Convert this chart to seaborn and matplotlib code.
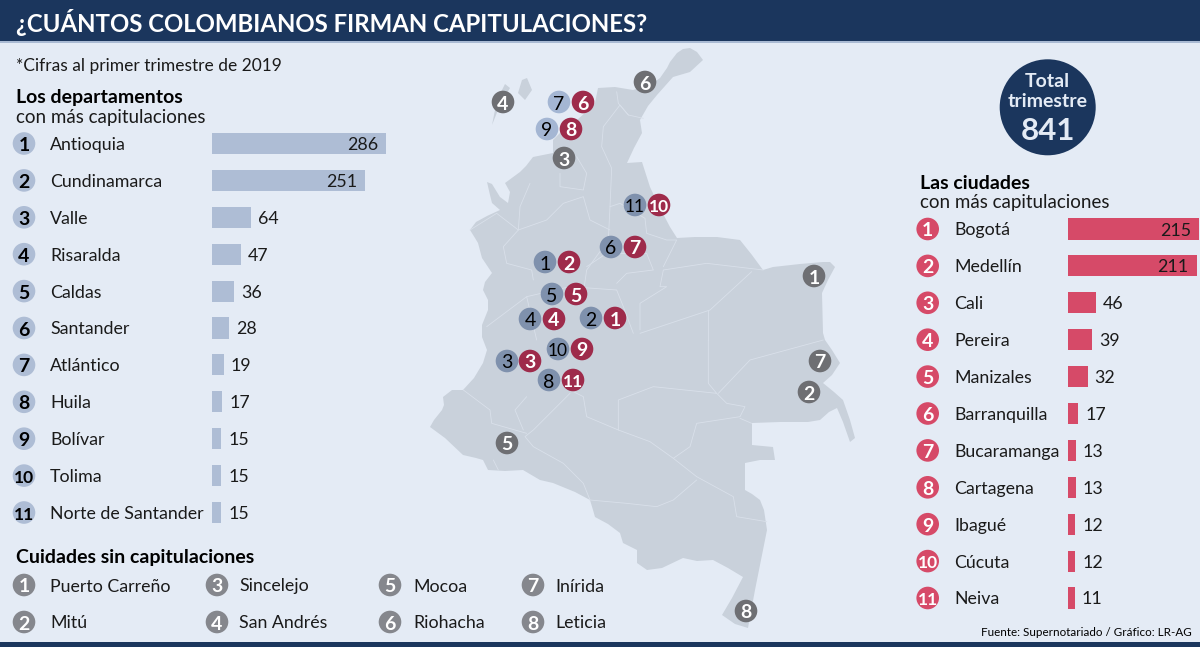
import matplotlib
matplotlib.use("Agg")
import matplotlib.pyplot as plt
from matplotlib.patches import Circle, Polygon, Rectangle
import seaborn as sns

sns.set_style("white")
plt.rcParams['font.family'] = ['Lato', 'DejaVu Sans']

# Datos
dept_names = ["Antioquia", "Cundinamarca", "Valle", "Risaralda", "Caldas", "Santander",
              "Atlántico", "Huila", "Bolívar", "Tolima", "Norte de Santander"]
dept_values = [286, 251, 64, 47, 36, 28, 19, 17, 15, 15, 15]
city_names = ["Bogotá", "Medellín", "Cali", "Pereira", "Manizales", "Barranquilla",
              "Bucaramanga", "Cartagena", "Ibagué", "Cúcuta", "Neiva"]
city_values = [215, 211, 46, 39, 32, 17, 13, 13, 12, 12, 11]
no_cap_names = ["Puerto Carreño", "Mitú", "Sincelejo", "San Andrés",
                "Mocoa", "Riohacha", "Inírida", "Leticia"]
total = 841

BG = "#E4EBF5"
NAVY = "#1B365D"
MAP = "#C9D1DB"
LINE = "#D9E0EA"
BLUE = "#AEBDD5"
BLUE_MAP = "#7F91AD"
PINK = "#D64A68"
WINE = "#9E2B4B"
GREY = "#6E6F73"
GREY2 = "#85878D"
TXT = "#1A1A1A"
FS = 12.8

fig = plt.figure(figsize=(12, 6.47), dpi=100, facecolor=BG)
bg = fig.add_axes([0, 0, 1, 1], zorder=0)
bg.set_xlim(0, 1200)
bg.set_ylim(647, 0)
bg.axis("off")

# Franjas
bg.add_patch(Rectangle((0, 0), 1200, 41, color=NAVY, lw=0))
bg.add_patch(Rectangle((0, 41), 1200, 1.5, color="#A9BAD3", lw=0))
bg.add_patch(Rectangle((0, 642), 1200, 5, color=NAVY, lw=0))

# Mapa (silueta aproximada en pixeles)
outline = [(703, 60), (697, 52), (690, 48), (683, 49), (677, 53), (670, 62), (667, 68), (660, 78), (653, 83),
           (640, 88), (633, 90), (615, 87), (598, 88), (595, 103), (586, 112), (577, 120), (565, 128),
           (553, 140), (553, 153), (543, 155), (533, 157), (526, 166), (520, 172), (505, 183), (510, 192),
           (508, 203), (500, 197), (492, 184), (487, 182), (490, 195), (492, 203), (500, 210), (487, 216),
           (476, 222), (470, 230), (475, 238), (478, 243), (482, 258), (492, 273), (485, 282), (483, 290),
           (488, 300), (488, 310), (482, 325), (482, 337), (487, 350), (483, 363), (474, 378), (463, 390),
           (452, 390), (443, 397), (444, 405), (442, 410), (434, 420), (430, 427), (445, 438), (463, 455),
           (476, 458), (483, 460), (488, 470), (505, 471), (523, 470), (540, 480), (553, 483), (575, 492),
           (590, 500), (593, 510), (595, 517), (608, 524), (620, 533), (623, 543), (637, 550), (637, 563),
           (647, 570), (662, 568), (683, 558), (697, 561), (713, 560), (728, 568), (743, 577), (732, 598),
           (722, 615), (735, 624), (748, 628), (755, 590), (767, 530), (764, 510), (760, 500), (752, 494),
           (745, 490), (745, 463), (760, 460), (775, 460), (773, 447), (752, 445), (752, 423), (780, 422),
           (808, 422), (820, 420), (829, 412), (837, 408), (843, 422), (850, 442), (855, 438), (850, 420),
           (843, 400), (834, 392), (823, 383), (832, 375), (840, 363), (832, 350), (825, 340), (823, 333),
           (822, 293), (828, 280), (835, 267), (830, 262), (823, 262), (800, 264), (773, 267), (763, 270),
           (752, 255), (740, 240), (717, 237), (695, 237), (677, 238), (670, 227), (660, 208), (650, 187),
           (642, 162), (627, 163), (634, 148), (642, 133), (640, 120), (648, 106), (657, 95), (673, 77),
           (690, 72)]
bg.add_patch(Polygon(outline, closed=True, facecolor=MAP, edgecolor="none", zorder=1))
bg.add_patch(Polygon([(492, 125), (497, 100), (505, 84), (510, 88), (500, 105)], facecolor=MAP, edgecolor="none", zorder=1))
bg.add_patch(Polygon([(518, 93), (522, 80), (527, 78), (532, 90), (525, 100)], facecolor=MAP, edgecolor="none", zorder=1))

upper = [[(590, 155), (595, 190), (625, 225), (670, 235)],
         [(550, 260), (600, 195), (625, 225)],
         [(550, 260), (545, 320), (575, 385), (570, 500), (565, 600), (500, 690), (490, 760)],
         [(330, 430), (300, 500), (295, 570), (250, 620), (260, 670), (335, 690), (340, 720)],
         [(420, 400), (420, 440), (490, 450), (500, 400), (470, 350)],
         [(295, 570), (380, 540), (430, 490), (490, 470), (510, 540), (570, 570)],
         [(150, 570), (230, 520), (295, 570)],
         [(570, 500), (600, 490), (675, 535), (680, 580), (740, 600), (770, 600), (730, 680)],
         [(500, 680), (560, 640), (680, 640), (700, 690), (620, 700), (590, 730)],
         [(1030, 690), (860, 670), (730, 690), (720, 740), (740, 740), (660, 790), (660, 870)],
         [(995, 695), (870, 810), (660, 880)],
         [(865, 810), (865, 900)],
         [(320, 770), (450, 740), (590, 750), (610, 800), (640, 880)],
         [(200, 860), (320, 770), (350, 900)]]
lower = [[(895, 160), (990, 60), (1210, 0)],
         [(865, 0), (865, 130), (890, 160), (700, 140), (595, 180), (595, 270)],
         [(595, 270), (500, 230), (490, 170), (450, 150)],
         [(595, 270), (690, 305), (760, 355), (830, 410)],
         [(890, 160), (920, 190), (975, 200), (960, 230), (830, 250), (810, 320), (760, 355)],
         [(830, 410), (940, 470), (950, 530), (1040, 545)],
         [(830, 420), (760, 480), (710, 500), (620, 490), (510, 480)],
         [(450, 160), (340, 270), (315, 290), (340, 320), (430, 370), (490, 430), (510, 480)],
         [(130, 150), (210, 210), (215, 250), (320, 280)],
         [(320, 170), (285, 210), (310, 270)],
         [(220, 360), (235, 390)],
         [(960, 235), (995, 250)]]
for seg in upper:
    bg.plot([420 + p[0] / 3 for p in seg], [40 + p[1] / 3 for p in seg], color=LINE, lw=0.6, zorder=2)
for seg in lower:
    bg.plot([420 + p[0] / 3 for p in seg], [340 + p[1] / 3 for p in seg], color=LINE, lw=0.6, zorder=2)


def badge(x, y, label, fc, tc="white", r=11.3, size=14, weight="bold"):
    bg.add_patch(Circle((x, y), r, facecolor=fc, edgecolor="none", zorder=4))
    if len(label) > 1:
        size = 12.5
    bg.text(x, y + 0.5, label, ha="center", va="center_baseline", color=tc, fontsize=size,
            fontweight=weight, zorder=5)


# Marcadores del mapa
for lab, x, y in [("4", 503, 102), ("6", 645, 82), ("3", 564, 158), ("1", 814, 276),
                  ("7", 820, 361), ("2", 809, 392), ("5", 507, 443), ("8", 746, 611)]:
    badge(x, y, lab, GREY)
for lab, x, y in [("7", 559, 102), ("9", 547, 129)]:
    badge(x, y, lab, "#A4B6D3", tc="black", weight="normal")
for lab, x, y in [("11", 635, 205), ("6", 611, 247), ("1", 545, 262), ("5", 552, 294), ("4", 530, 319),
                  ("2", 591, 318), ("10", 558, 349), ("3", 507, 361), ("8", 549, 380)]:
    badge(x, y, lab, BLUE_MAP, tc="black", weight="normal")
for lab, x, y in [("6", 583, 102), ("8", 571, 129), ("10", 659, 205), ("7", 635, 247), ("2", 569, 262),
                  ("5", 576, 294), ("4", 554, 319), ("1", 615, 318), ("9", 582, 349), ("3", 530, 361),
                  ("11", 573, 380)]:
    badge(x, y, lab, WINE)

# Textos
bg.text(16, 21, "¿CUÁNTOS COLOMBIANOS FIRMAN CAPITULACIONES?", color="white", fontsize=17.3,
        fontweight="bold", va="center_baseline")
bg.text(16, 65, "*Cifras al primer trimestre de 2019", color=TXT, fontsize=12.5, va="center_baseline")
bg.text(16, 96, "Los departamentos", color="black", fontsize=14, fontweight="bold", va="center_baseline")
bg.text(16, 116, "con más capitulaciones", color=TXT, fontsize=13.5, va="center_baseline")
bg.text(920, 182, "Las ciudades", color="black", fontsize=14, fontweight="bold", va="center_baseline")
bg.text(920, 201, "con más capitulaciones", color=TXT, fontsize=13.5, va="center_baseline")
bg.text(16, 556, "Cuidades sin capitulaciones", color="black", fontsize=14, fontweight="bold",
        va="center_baseline")
bg.text(1192, 631, "Fuente: Supernotariado / Gráfico: LR-AG", color="black", fontsize=8.4, ha="right",
        va="center_baseline")

# Total
bg.add_patch(Circle((1047.7, 107.3), 48, facecolor=NAVY, edgecolor="none", zorder=3))
bg.text(1047.7, 80, "Total", color="#E4EBF5", fontsize=14, fontweight="bold", ha="center",
        va="center_baseline", zorder=4)
bg.text(1047.7, 100, "trimestre", color="#E4EBF5", fontsize=14, fontweight="bold", ha="center",
        va="center_baseline", zorder=4)
bg.text(1047.7, 129, str(total), color="#E4EBF5", fontsize=22.5, fontweight="bold", ha="center",
        va="center_baseline", zorder=4)

# Listas y barras
STEP = 36.9
SCALE = 0.61


def ranking(names, values, first_y, cx, name_x, bar_x, bar_w, fc, badge_fc, badge_tc):
    for i, name in enumerate(names):
        y = first_y + i * STEP
        badge(cx, y, str(i + 1), badge_fc, tc=badge_tc, r=11.3)
        bg.text(name_x, y, name, color=TXT, fontsize=FS, va="center_baseline")
    top = first_y - STEP / 2
    ax = fig.add_axes([bar_x / 1200, 1 - (top + STEP * len(names)) / 647, bar_w / 1200,
                       STEP * len(names) / 647], zorder=3)
    sns.barplot(x=values, y=names, ax=ax, color=fc, saturation=1, width=0.57, linewidth=0)
    ax.set_xlim(0, bar_w / SCALE)
    ax.set_ylim(len(names) - 0.5, -0.5)
    ax.axis("off")
    for i, v in enumerate(values):
        if v > 200:
            ax.annotate(str(v), (v, i), xytext=(-8, 0), textcoords="offset pixels", ha="right",
                        va="center_baseline", color=TXT, fontsize=FS)
        else:
            ax.annotate(str(v), (v, i), xytext=(7, 0), textcoords="offset pixels", ha="left",
                        va="center_baseline", color=TXT, fontsize=FS)


ranking(dept_names, dept_values, 143.5, 24, 50, 212, 190, BLUE, BLUE, "black")
ranking(city_names, city_values, 229, 927.7, 954, 1068, 132, PINK, PINK, "white")

# Ciudades sin capitulaciones
col_x = [(24, 50), (217, 239), (390, 413), (533, 555)]
for i, name in enumerate(no_cap_names):
    cx, tx = col_x[i // 2]
    y = 585 + (i % 2) * 37
    badge(cx, y, str(i + 1), GREY2)
    bg.text(tx, y, name, color=TXT, fontsize=FS, va="center_baseline")

fig.savefig("out.png", dpi=100, facecolor=BG)
